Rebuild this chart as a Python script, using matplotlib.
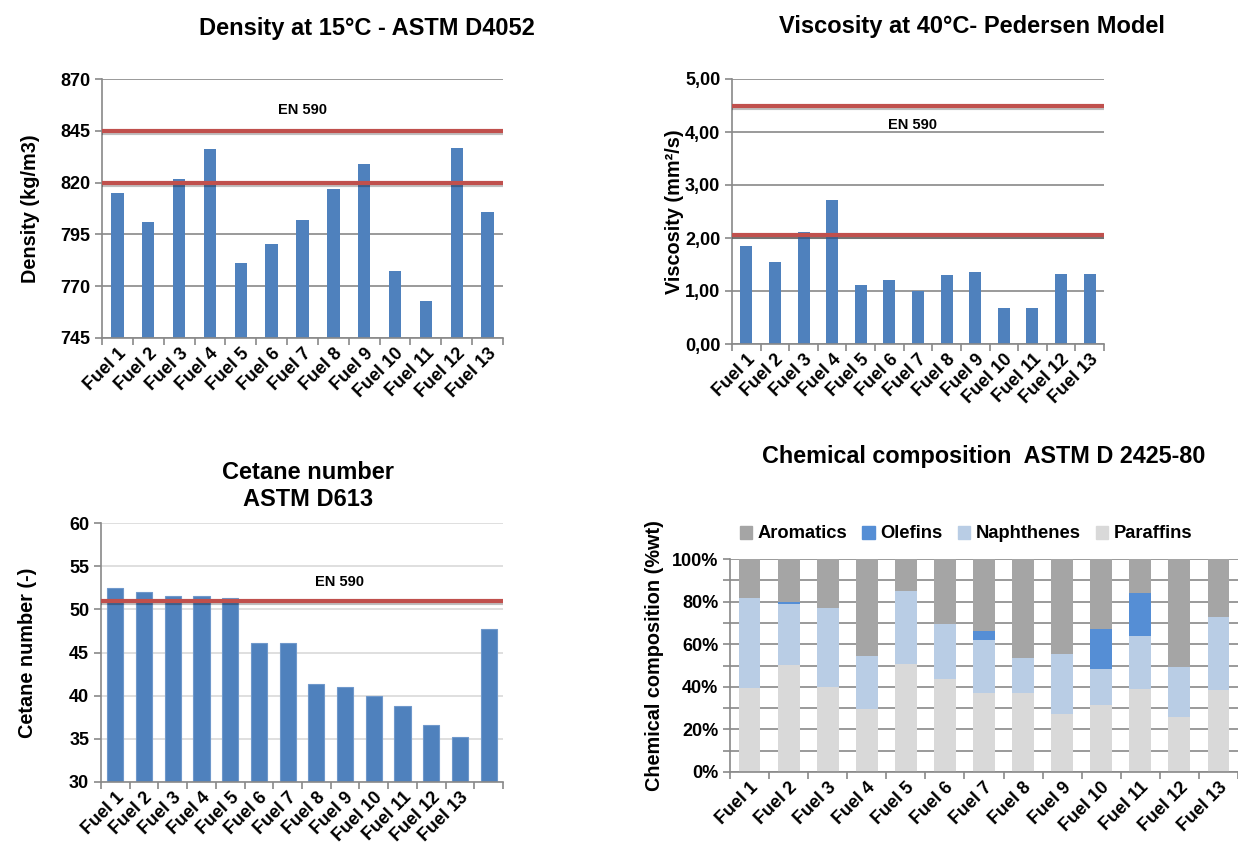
import matplotlib
matplotlib.use("Agg")
import matplotlib.pyplot as plt
import matplotlib.patheffects as pe
from matplotlib.patches import Patch
from matplotlib.ticker import FixedLocator, FuncFormatter

plt.rcParams['font.family'] = ['Liberation Sans', 'DejaVu Sans']
plt.rcParams['font.weight'] = 'bold'

W, H = 1238, 856

fuels = ["Fuel %d" % i for i in range(1, 14)]

density = [815.1, 801.2, 821.7, 836.2, 781.1, 790.6, 801.9, 816.8, 829.2, 777.1, 762.7, 836.5, 805.7]
density_limits = [845, 820]

viscosity = [1.84, 1.55, 2.11, 2.72, 1.12, 1.21, 1.00, 1.30, 1.36, 0.68, 0.68, 1.33, 1.33]
viscosity_limits = [4.50, 2.06]

cetane = [52.5, 52.0, 51.6, 51.6, 51.3, 46.1, 46.1, 41.4, 41.0, 40.0, 38.8, 36.6, 35.2, 47.7]
cetane_limit = 51

paraffins = [39.6, 50.1, 39.9, 29.7, 50.9, 43.5, 37.0, 37.0, 27.2, 31.4, 38.9, 25.8, 38.5]
naphthenes = [42.0, 28.9, 37.3, 24.8, 34.2, 25.9, 25.0, 16.5, 28.4, 17.0, 24.8, 23.3, 34.3]
olefins = [0.0, 0.9, 0.0, 0.0, 0.0, 0.0, 4.4, 0.0, 0.0, 18.9, 20.5, 0.0, 0.0]
aromatics = [18.4, 20.1, 22.8, 45.5, 14.9, 30.6, 33.6, 46.5, 44.4, 32.7, 15.8, 50.9, 27.2]

BLUE = '#4F81BD'
RED = '#C0504D'
GRID = '#898989'
comp_colors = {'Aromatics': '#A5A5A5', 'Olefins': '#558ED5',
               'Naphthenes': '#B9CDE5', 'Paraffins': '#D9D9D9'}

fig = plt.figure(figsize=(W / 100, H / 100), dpi=100)


def ax_at(l, t, r, b):
    return fig.add_axes([l / W, 1 - b / H, (r - l) / W, (b - t) / H])


def ftext(x, y, s, **kw):
    fig.text(x / W, 1 - y / H, s, ha='center', va='center', fontweight='bold', **kw)


def style(ax, n, labels, grid_color=GRID):
    ax.set_xlim(-0.5, n - 0.5)
    for side in ('top', 'right'):
        ax.spines[side].set_visible(False)
    for side in ('left', 'bottom'):
        ax.spines[side].set_color(GRID)
        ax.spines[side].set_linewidth(1.2)
    ax.set_axisbelow(True)
    ax.yaxis.grid(True, color=grid_color, linewidth=1.2)
    ax.set_xticks(range(len(labels)))
    ax.set_xticklabels(labels, rotation=45, ha='right', va='top', rotation_mode='anchor',
                       fontsize=13, fontweight='bold')
    ax.xaxis.set_minor_locator(FixedLocator([i - 0.5 for i in range(n + 1)]))
    ax.tick_params(axis='x', which='major', length=0, pad=5)
    ax.tick_params(axis='x', which='minor', length=5, color=GRID, width=1.2)
    ax.tick_params(axis='y', length=5, color=GRID, width=1.2, labelsize=13)
    for lab in ax.get_yticklabels():
        lab.set_fontweight('bold')


def limit_line(ax, y):
    ax.axhline(y, color=RED, linewidth=3, zorder=3,
               path_effects=[pe.SimpleLineShadow(offset=(0, -1.5), alpha=0.25),
                             pe.Normal()])


# Density
ax1 = ax_at(102, 79, 503, 338)
ax1.bar(range(len(density)), density, width=0.4, color=BLUE, zorder=2)
ax1.set_ylim(745, 870)
ax1.set_yticks([745, 770, 795, 820, 845, 870])
style(ax1, len(density), fuels)
for y in density_limits:
    limit_line(ax1, y)
ax1.text(6, 855, 'EN 590', ha='center', va='center', fontsize=10.5, fontweight='bold')
ax1.set_ylabel('Density (kg/m3)', fontsize=14.3, fontweight='bold')
ax1.yaxis.set_label_coords(-0.155, 0.5)
ftext(367, 28, 'Density at 15°C - ASTM D4052', fontsize=17)

# Viscosity
ax2 = ax_at(732, 79, 1104, 344)
ax2.bar(range(len(viscosity)), viscosity, width=0.42, color=BLUE, zorder=2)
ax2.set_ylim(0, 5)
ax2.set_yticks([0, 1, 2, 3, 4, 5])
ax2.yaxis.set_major_formatter(FuncFormatter(lambda v, p: ('%.2f' % v).replace('.', ',')))
style(ax2, len(viscosity), fuels)
for y in viscosity_limits:
    limit_line(ax2, y)
ax2.text(5.8, 4.13, 'EN 590', ha='center', va='center', fontsize=10.5, fontweight='bold')
ax2.set_ylabel('Viscosity (mm²/s)', fontsize=14.3, fontweight='bold')
ax2.yaxis.set_label_coords(-0.13, 0.5)
ftext(972, 27, 'Viscosity at 40°C- Pedersen Model', fontsize=17)

# Cetane
ax3 = ax_at(101, 523, 503, 782)
ax3.bar(range(len(cetane)), cetane, width=0.56, color=BLUE, edgecolor='#6F98CB',
        linewidth=0.8, zorder=2)
ax3.set_ylim(30, 60)
ax3.set_yticks([30, 35, 40, 45, 50, 55, 60])
style(ax3, len(cetane), fuels, grid_color='#D9D9D9')
limit_line(ax3, cetane_limit)
ax3.text(7.8, 53.2, 'EN 590', ha='center', va='center', fontsize=10.5, fontweight='bold')
ax3.set_ylabel('Cetane number (-)', fontsize=14.3, fontweight='bold')
ax3.yaxis.set_label_coords(-0.16, 0.5)
ftext(308, 486, 'Cetane number\nASTM D613', fontsize=17, linespacing=1.2)

# Chemical composition
ax4 = ax_at(730, 559, 1238, 772)
x = range(len(paraffins))
bottom = [0.0] * len(paraffins)
for name, vals in [('Paraffins', paraffins), ('Naphthenes', naphthenes),
                   ('Olefins', olefins), ('Aromatics', aromatics)]:
    ax4.bar(x, vals, width=0.56, bottom=bottom, color=comp_colors[name], zorder=2)
    bottom = [b + v for b, v in zip(bottom, vals)]
ax4.set_ylim(0, 100)
ax4.set_yticks(range(0, 101, 20))
ax4.yaxis.set_minor_locator(FixedLocator(range(10, 100, 20)))
ax4.yaxis.set_major_formatter(FuncFormatter(lambda v, p: '%d%%' % v))
style(ax4, len(paraffins), fuels)
ax4.yaxis.grid(True, which='minor', color=GRID, linewidth=1.2)
ax4.tick_params(axis='y', which='minor', length=5, color=GRID, width=1.2)
ax4.set_ylabel('Chemical composition (%wt)', fontsize=14.3, fontweight='bold')
ax4.yaxis.set_label_coords(-0.13, 0.545)
names = ['Aromatics', 'Olefins', 'Naphthenes', 'Paraffins']
handles = [Patch(color=comp_colors[k]) for k in names]
fig.legend(handles, names, ncol=4,
           loc='center', bbox_to_anchor=(966 / W, 1 - 534 / H), frameon=False,
           prop={'size': 13.2, 'weight': 'bold'}, handlelength=0.7, handleheight=0.7,
           handletextpad=0.3, columnspacing=0.8)
ftext(984, 457, 'Chemical composition  ASTM D 2425-80', fontsize=16.8)

fig.savefig('out.png', dpi=100)
